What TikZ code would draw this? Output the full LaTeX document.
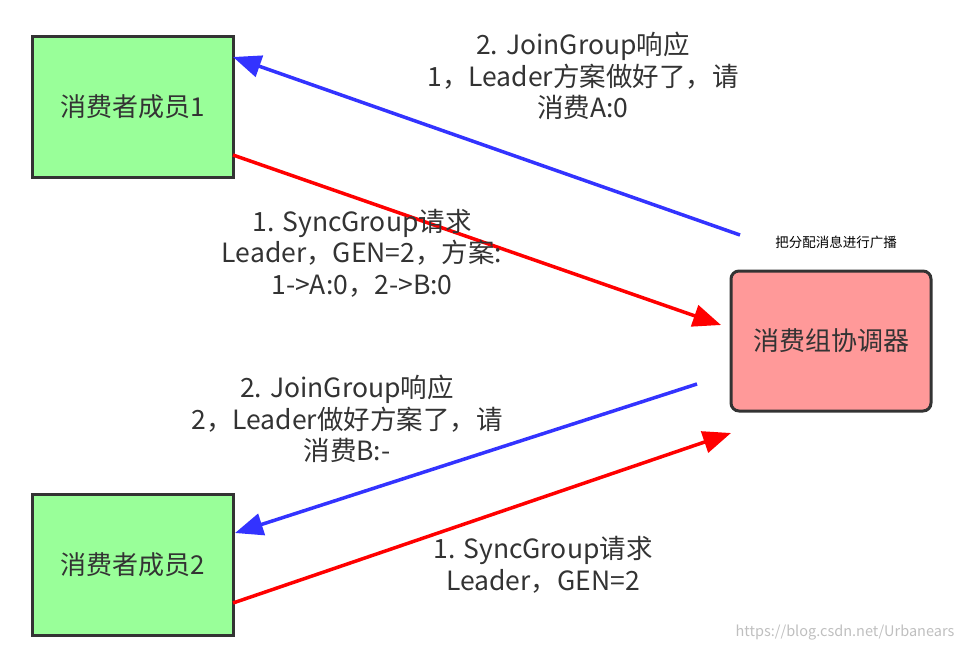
\documentclass[tikz,border=0pt]{standalone}
\usepackage{fontspec}
\setmainfont{Noto Sans CJK SC}
\usetikzlibrary{arrows.meta}
\definecolor{boxgreen}{RGB}{153,255,153}
\definecolor{boxpink}{RGB}{255,153,153}
\definecolor{edgegray}{RGB}{51,51,51}
\definecolor{txtgray}{RGB}{51,51,51}
\definecolor{arrblue}{RGB}{51,51,255}
\definecolor{arrred}{RGB}{255,0,0}
\begin{document}
\begin{tikzpicture}[x=1pt,y=-1pt,
  member/.style={draw=edgegray,line width=3pt,fill=boxgreen,minimum width=201pt,minimum height=141pt,inner sep=0pt,text=txtgray,font=\fontsize{26}{31}\selectfont},
  coord/.style={draw=edgegray,line width=3pt,fill=boxpink,rounded corners=8pt,minimum width=200pt,minimum height=140pt,inner sep=0pt,text=txtgray,font=\fontsize{26}{31}\selectfont},
  lbl/.style={align=center,text=txtgray,inner sep=0pt,font=\fontsize{26.5}{31.5}\selectfont},
  bluearr/.style={draw=arrblue,line width=3.5pt,-{Triangle[length=28pt,width=22pt]}},
  redarr/.style={draw=arrred,line width=3.5pt,-{Triangle[length=28pt,width=22pt]}}]
\useasboundingbox (0,0) rectangle (965,651);
\node[member] (m1) at (132.5,106.5) {消费者成员1};
\node[member] (m2) at (132.5,565) {消费者成员2};
\node[coord] (gc) at (831,341) {消费组协调器};
\coordinate (b1s) at (740,235);
\coordinate (b1e) at (233,57);
\coordinate (r1s) at (233,155);
\coordinate (r1e) at (721,325);
\coordinate (b2s) at (697,384);
\coordinate (b2e) at (235,533);
\coordinate (r2s) at (233,603);
\coordinate (r2e) at (731,433);
\draw[bluearr] (b1s) -- (b1e);
\draw[redarr] (r1s) -- (r1e);
\draw[bluearr] (b2s) -- (b2e);
\draw[redarr] (r2s) -- (r2e);
\node[lbl] (l1) at (583,76) {2. JoinGroup响应\\1，Leader方案做好了，请\\消费A:0};
\node[lbl] (l2) at (362,253) {1. SyncGroup请求\\Leader，GEN=2，方案:\\1->A:0，2->B:0};
\node[lbl] (l3) at (347,419) {2. JoinGroup响应\\2，Leader做好方案了，请\\消费B:-};
\node[lbl] (l4) at (543,565) {1. SyncGroup请求\\Leader，GEN=2};
\node[text=black,inner sep=0pt,font=\fontsize{13.5}{16}\selectfont] (bc) at (836,242) {把分配消息进行广播};
\node[text=black!25,inner sep=0pt,font=\fontsize{14.5}{17}\selectfont] (wm) at (845,633) {https://blog.csdn.net/Urbanears};
\end{tikzpicture}
\end{document}
